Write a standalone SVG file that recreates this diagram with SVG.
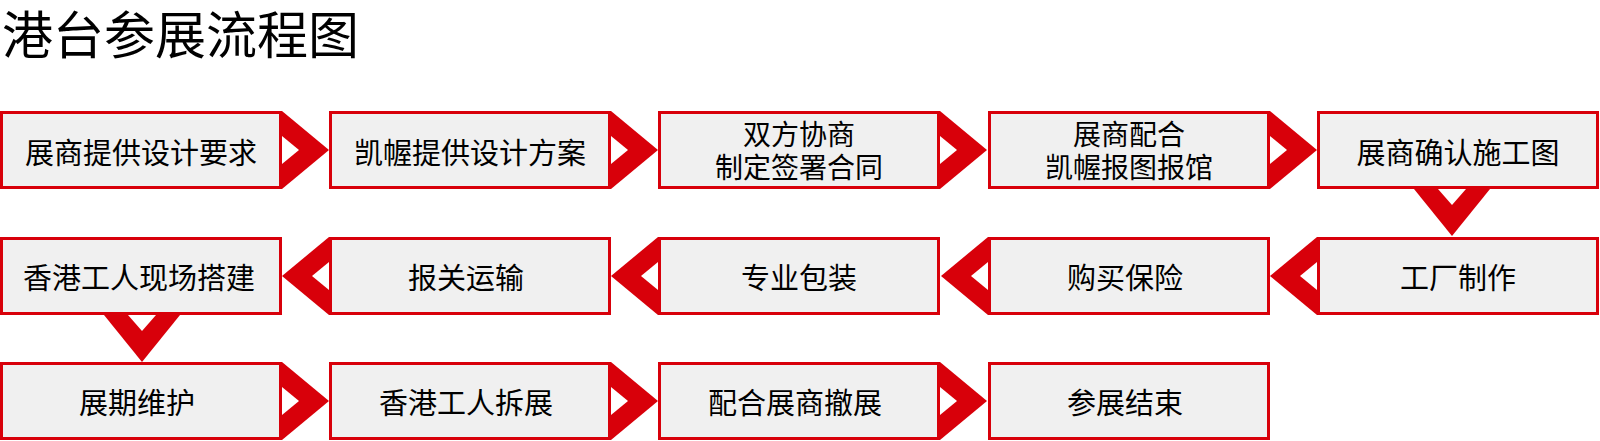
<svg xmlns="http://www.w3.org/2000/svg" width="1600" height="441" viewBox="0 0 1600 441">
<style>
.box{fill:#f0f0f0;stroke:#d8000a;stroke-width:3}
.t{font-family:"Noto Sans CJK SC","Noto Sans",sans-serif;font-size:29px;fill:#000;text-anchor:middle;dominant-baseline:central}
.t2{font-family:"Noto Sans CJK SC","Noto Sans",sans-serif;font-size:28px;fill:#000;text-anchor:middle;dominant-baseline:central}
.title{font-family:"Noto Sans CJK SC","Noto Sans",sans-serif;font-size:51px;fill:#000;dominant-baseline:central}
.ar{fill:#d8000a}
.nt{fill:#ffffff}
</style>
<defs>
<g id="aR"><polygon class="ar" points="0,-39 47,0 0,39"/><polygon class="nt" points="0,-14 17,0 0,14"/></g>
<g id="aL"><polygon class="ar" points="0,-39 -47,0 0,39"/><polygon class="nt" points="0,-14 -17,0 0,14"/></g>
<g id="aD"><polygon class="ar" points="-38,0 0,47 38,0"/><polygon class="nt" points="-14,0 0,16 14,0"/></g>
</defs>
<rect width="1600" height="441" fill="#ffffff"/>
<text class="title" x="2" y="32">港台参展流程图</text>

<g id="n1"><rect class="box" x="1.5" y="112.5" width="279" height="75"/><text class="t" x="141" y="151">展商提供设计要求</text></g>
<g id="n2"><rect class="box" x="330.5" y="112.5" width="279" height="75"/><text class="t" x="470" y="151">凯幄提供设计方案</text></g>
<g id="n3"><rect class="box" x="659.5" y="112.5" width="279" height="75"/><text class="t2" x="799" y="133"><tspan x="799" y="133">双方协商</tspan><tspan x="799" y="166">制定签署合同</tspan></text></g>
<g id="n4"><rect class="box" x="989.5" y="112.5" width="279" height="75"/><text class="t2" x="1129" y="133"><tspan x="1129" y="133">展商配合</tspan><tspan x="1129" y="166">凯幄报图报馆</tspan></text></g>
<g id="n5"><rect class="box" x="1318.5" y="112.5" width="279" height="75"/><text class="t" x="1458" y="151">展商确认施工图</text></g>

<g id="n6"><rect class="box" x="1318.5" y="238.5" width="279" height="75"/><text class="t" x="1458" y="276">工厂制作</text></g>
<g id="n7"><rect class="box" x="989.5" y="238.5" width="279" height="75"/><text class="t" x="1125" y="276">购买保险</text></g>
<g id="n8"><rect class="box" x="659.5" y="238.5" width="279" height="75"/><text class="t" x="799" y="276">专业包装</text></g>
<g id="n9"><rect class="box" x="330.5" y="238.5" width="279" height="75"/><text class="t" x="466" y="276">报关运输</text></g>
<g id="n10"><rect class="box" x="1.5" y="238.5" width="279" height="75"/><text class="t" x="139" y="276">香港工人现场搭建</text></g>

<g id="n11"><rect class="box" x="1.5" y="363.5" width="279" height="75"/><text class="t" x="137" y="401">展期维护</text></g>
<g id="n12"><rect class="box" x="330.5" y="363.5" width="279" height="75"/><text class="t" x="466" y="401">香港工人拆展</text></g>
<g id="n13"><rect class="box" x="659.5" y="363.5" width="279" height="75"/><text class="t" x="795" y="401">配合展商撤展</text></g>
<g id="n14"><rect class="box" x="989.5" y="363.5" width="279" height="75"/><text class="t" x="1125" y="401">参展结束</text></g>

<g id="connectors">
<use href="#aR" x="282" y="150"/>
<use href="#aR" x="611" y="150"/>
<use href="#aR" x="940" y="150"/>
<use href="#aR" x="1270" y="150"/>
<use href="#aD" x="1452" y="189"/>
<use href="#aL" x="1317" y="276"/>
<use href="#aL" x="988" y="276"/>
<use href="#aL" x="658" y="276"/>
<use href="#aL" x="329" y="276"/>
<use href="#aD" x="142" y="315"/>
<use href="#aR" x="282" y="401"/>
<use href="#aR" x="611" y="401"/>
<use href="#aR" x="940" y="401"/>
</g>
</svg>
